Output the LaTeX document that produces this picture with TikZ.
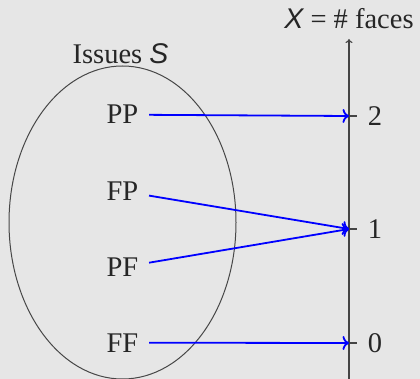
\documentclass[tikz,border=0pt]{standalone}
\usepackage{fontspec}
\setmainfont{Liberation Serif}
\newfontfamily\sansf{Liberation Sans}
\usetikzlibrary{arrows.meta}
\definecolor{bg}{HTML}{E6E6E6}
\definecolor{ink}{HTML}{262626}
\definecolor{axisc}{HTML}{444444}
\newcommand{\vi}[1]{{\sansf\itshape #1}}
\begin{document}
\begin{tikzpicture}[x=1pt,y=-1pt,
  lbl/.style={font=\fontsize{28.5}{31}\selectfont, text=ink, inner sep=10.5pt},
  mapar/.style={blue, line width=1.8pt, -{To[length=6.5pt,width=14pt]}},
  axisline/.style={axisc, line width=1.1pt},
  tick/.style={axisc, line width=1.1pt}]
\fill[bg] (0,0) rectangle (420,379);
\useasboundingbox (0,0) rectangle (420,379);
% set ellipse
\draw[ink!85, line width=1pt] (122.5,222.5) ellipse [x radius=113.5pt, y radius=156.5pt];
\node[lbl, anchor=base] (title) at (120.5,64) {Issues \vi{S}};
% axis
\coordinate (abot) at (349,379);
\coordinate (atop) at (349,39);
\draw[axisline, -{To[length=4pt,width=7pt]}] (abot) -- (atop);
\node[lbl, anchor=base] (xlab) at (349,29) {\vi{X} = \# faces};
\coordinate (t2) at (349,116);
\coordinate (t1) at (349,229);
\coordinate (t0) at (349,343);
\coordinate (e2) at (357,116);
\coordinate (e1) at (357,229);
\coordinate (e0) at (357,343);
\draw[tick] (t2) -- (e2);
\draw[tick] (t1) -- (e1);
\draw[tick] (t0) -- (e0);
\node[lbl] (v2) at (375,116) {2};
\node[lbl] (v1) at (375,229) {1};
\node[lbl] (v0) at (375,343) {0};
% outcomes
\node[lbl, anchor=base] (PP) at (122.5,124) {PP};
\node[lbl, anchor=base] (FP) at (122.5,200.5) {FP};
\node[lbl, anchor=base] (PF) at (122.5,276.5) {PF};
\node[lbl, anchor=base] (FF) at (122.5,352) {FF};
\draw[mapar] (PP) -- (t2);
\draw[mapar] (FP) -- (t1);
\draw[mapar] (PF) -- (t1);
\draw[mapar] (FF) -- (t0);
\end{tikzpicture}
\end{document}
